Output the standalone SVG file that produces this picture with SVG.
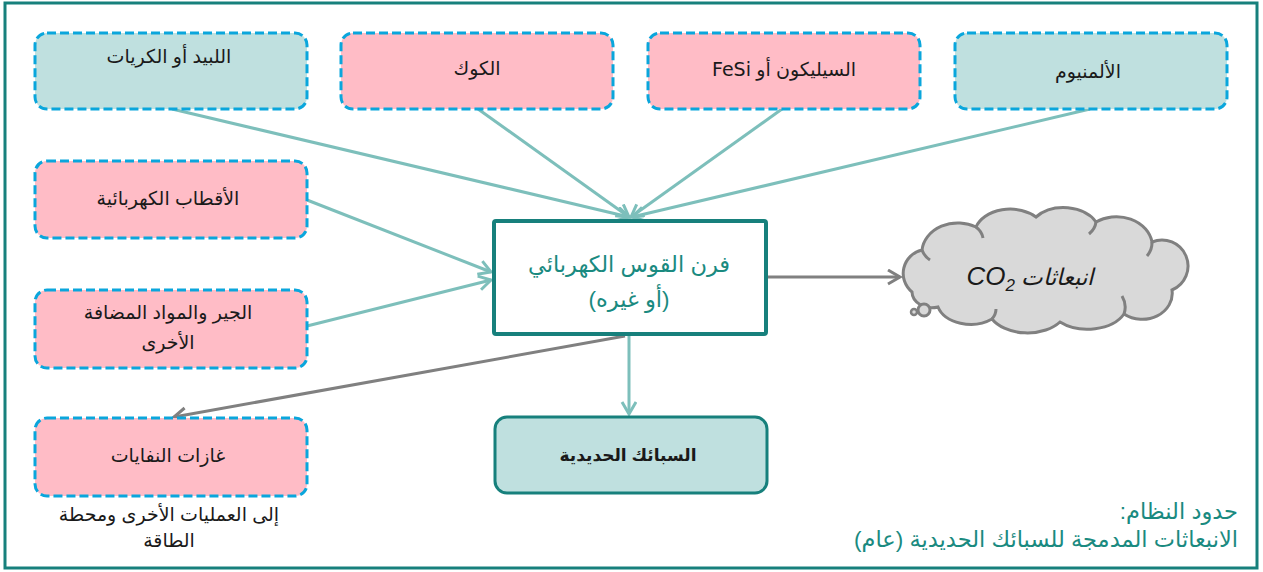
<svg xmlns="http://www.w3.org/2000/svg" width="1263" height="572" viewBox="0 0 1263 572">
  <style>
    .frame { fill: #ffffff; stroke: #17807c; stroke-width: 3; }
    .input { stroke: #0aa6dc; stroke-width: 3; stroke-dasharray: 9 4; }
    .pink { fill: #ffbcc6; }
    .mint { fill: #bfe0df; }
    .lbl { font-family: "Liberation Sans", "DejaVu Sans", sans-serif; font-size: 19px; fill: #1a1a1a; text-anchor: middle; direction: rtl; }
    .lbl-bold { font-size: 17px; font-weight: bold; }
    .teal-txt { font-family: "Liberation Sans", "DejaVu Sans", sans-serif; font-size: 22.5px; fill: #1a8a80; direction: rtl; }
    .flow { stroke: #7dbfbb; stroke-width: 3; fill: none; }
    .out { stroke: #808080; stroke-width: 3; fill: none; }
  </style>
  <defs>
    <marker id="arrowTeal" markerUnits="userSpaceOnUse" markerWidth="20" markerHeight="20" refX="14" refY="8" orient="auto">
      <path d="M2,1 L14,8 L2,15" fill="none" stroke="#7dbfbb" stroke-width="3"/>
    </marker>
    <marker id="arrowGray" markerUnits="userSpaceOnUse" markerWidth="20" markerHeight="20" refX="14" refY="8" orient="auto">
      <path d="M2,1 L14,8 L2,15" fill="none" stroke="#808080" stroke-width="3"/>
    </marker>
  </defs>

  <!-- system boundary -->
  <rect class="frame" x="5" y="3" width="1252" height="565"/>

  <!-- connectors -->
  <g id="connectors">
    <line class="flow" x1="172" y1="109" x2="629" y2="217" marker-end="url(#arrowTeal)"/>
    <line class="flow" x1="478" y1="109" x2="629" y2="217" marker-end="url(#arrowTeal)"/>
    <line class="flow" x1="782" y1="109" x2="631" y2="217" marker-end="url(#arrowTeal)"/>
    <line class="flow" x1="1090" y1="109" x2="632" y2="217" marker-end="url(#arrowTeal)"/>
    <line class="flow" x1="307" y1="200" x2="491" y2="272" marker-end="url(#arrowTeal)"/>
    <line class="flow" x1="307" y1="326" x2="491" y2="280" marker-end="url(#arrowTeal)"/>
    <line class="flow" x1="629" y1="335" x2="629" y2="414" marker-end="url(#arrowTeal)"/>
    <line class="out" x1="625" y1="336" x2="174" y2="417" marker-end="url(#arrowGray)"/>
    <line class="out" x1="767" y1="277" x2="900" y2="277" marker-end="url(#arrowGray)"/>
  </g>

  <!-- inputs -->
  <g id="node-pellets">
    <rect class="input mint" x="35" y="33" width="272" height="76" rx="12"/>
    <text class="lbl" x="169" y="63">اللبيد أو الكريات</text>
  </g>
  <g id="node-coke">
    <rect class="input pink" x="341" y="33" width="272" height="76" rx="12"/>
    <text class="lbl" x="477" y="75">الكوك</text>
  </g>
  <g id="node-silicon">
    <rect class="input pink" x="648" y="33" width="272" height="76" rx="12"/>
    <text class="lbl" x="784" y="76">السيليكون أو <tspan font-family="DejaVu Sans, sans-serif" font-size="19">FeSi</tspan></text>
  </g>
  <g id="node-aluminium">
    <rect class="input mint" x="955" y="33" width="272" height="76" rx="12"/>
    <text class="lbl" x="1088" y="78">الألمنيوم</text>
  </g>
  <g id="node-electrodes">
    <rect class="input pink" x="35" y="161" width="272" height="77" rx="12"/>
    <text class="lbl" x="168" y="205">الأقطاب الكهربائية</text>
  </g>
  <g id="node-lime">
    <rect class="input pink" x="35" y="290" width="272" height="78" rx="12"/>
    <text class="lbl" x="168" y="319">الجير والمواد المضافة</text>
    <text class="lbl" x="168" y="349">الأخرى</text>
  </g>
  <g id="node-offgas">
    <rect class="input pink" x="35" y="418" width="272" height="78" rx="12"/>
    <text class="lbl" x="168" y="462">غازات النفايات</text>
    <text class="lbl" x="169" y="521">إلى العمليات الأخرى ومحطة</text>
    <text class="lbl" x="169" y="547">الطاقة</text>
  </g>

  <!-- furnace -->
  <g id="node-furnace">
    <rect x="494" y="221" width="272" height="113" fill="#ffffff" stroke="#17807c" stroke-width="4" rx="2"/>
    <text class="teal-txt" x="629" y="272" text-anchor="middle">فرن القوس الكهربائي</text>
    <text class="teal-txt" x="629" y="307" text-anchor="middle">(أو غيره)</text>
  </g>

  <!-- product -->
  <g id="node-ferroalloys">
    <rect x="495" y="417" width="272" height="76" rx="12" fill="#bfe0df" stroke="#17807c" stroke-width="3"/>
    <text class="lbl lbl-bold" x="628" y="461">السبائك الحديدية</text>
  </g>

  <!-- emissions cloud -->
  <g id="node-co2">
    <path d="M912,292 A24 24 0 0 1 922,250 A36 30 0 0 1 976,227 A36 26 0 0 1 1036,217 A36 26 0 0 1 1096,222 A36 30 0 0 1 1152,242 A26 26 0 0 1 1172,290 A30 26 0 0 1 1124,314 A40 26 0 0 1 1060,322 A40 26 0 0 1 992,319 A34 24 0 0 1 938,307 A20 16 0 0 1 912,292 Z" fill="#d9d9d9" stroke="#808080" stroke-width="3"/>
    <path d="M976,227 A30 20 0 0 1 983,238 M1096,222 A25 20 0 0 1 1089,234 M1152,242 A20 20 0 0 1 1147,256 M1124,314 A30 25 0 0 0 1122,296 M992,319 A30 20 0 0 0 996,309 M922,250 A20 20 0 0 0 930,260" fill="none" stroke="#808080" stroke-width="3"/>
    <circle cx="924" cy="310" r="6" fill="#d9d9d9" stroke="#808080" stroke-width="3"/>
    <circle cx="914" cy="312" r="3" fill="#d9d9d9" stroke="#808080" stroke-width="2.5"/>
    <text x="1030" y="285" font-family="Liberation Sans, DejaVu Sans, sans-serif" font-style="italic" font-size="23" fill="#1a1a1a" text-anchor="middle" direction="rtl">انبعاثات  <tspan font-size="26">CO</tspan><tspan font-size="17" dy="6">2</tspan></text>
  </g>

  <!-- boundary caption -->
  <g id="caption">
    <text class="teal-txt" x="1238" y="519" text-anchor="start">حدود النظام:</text>
    <text class="teal-txt" x="1238" y="547" text-anchor="start">الانبعاثات المدمجة للسبائك الحديدية (عام)</text>
  </g>
</svg>
